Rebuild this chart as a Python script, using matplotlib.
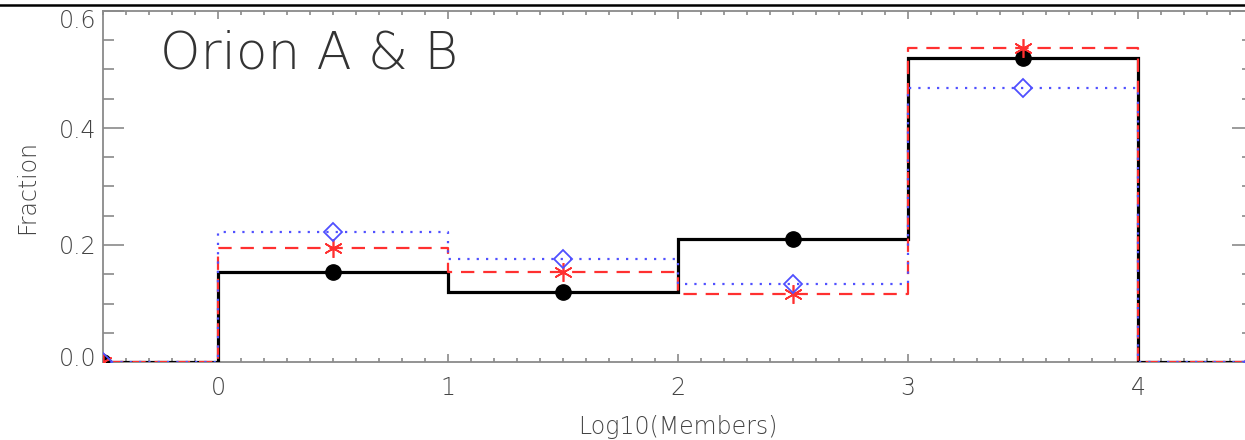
import matplotlib
matplotlib.use("Agg")
import matplotlib.pyplot as plt
from matplotlib.lines import Line2D
from matplotlib.ticker import MultipleLocator
from matplotlib.transforms import ScaledTranslation
import numpy as np

# bin edges and values (Log10(Members))
bin_edges = [-1, 0, 1, 2, 3, 4, 5]
bin_centers = [-0.5, 0.5, 1.5, 2.5, 3.5, 4.5]
frac_black = [0.0, 0.153, 0.119, 0.210, 0.519, 0.0]
frac_red = [0.0, 0.195, 0.154, 0.116, 0.537, 0.0]
frac_blue = [0.0, 0.222, 0.176, 0.133, 0.469, 0.0]
x_ticks = [0, 1, 2, 3, 4]
x_ticklabels = ['0', '1', '2', '3', '4']
y_ticks = [0, 0.2, 0.4, 0.6]
y_ticklabels = ['0.0', '0.2', '0.4', '0.6']
title_text = "Orion A & B"

plt.rcParams['font.family'] = ['DejaVu Sans']

fig = plt.figure(figsize=(12.45, 4.40), dpi=100)
ax = fig.add_axes([103 / 1245, 78 / 440, 1150 / 1245, 351 / 440])

def steps(vals):
    xs = np.repeat(bin_edges, 2)[1:-1]
    ys = np.repeat(vals, 2)
    return xs, ys

xb, yb = steps(frac_black)
ax.plot(xb, yb, color='black', lw=2.3, solid_joinstyle='miter', zorder=3)
xr, yr = steps(frac_red)
ax.plot(xr, yr, color='#ff3030', lw=1.6, dashes=(6, 4), zorder=4)
xbl, ybl = steps(frac_blue)
ax.plot(xbl, ybl, color='#5050ff', lw=1.6, dashes=(1, 3.2), zorder=5)

ax.plot(bin_centers, frac_black, 'o', color='black', ms=11, zorder=6)
ax.plot(bin_centers, frac_red, marker=(6, 2, 0), ls='none', color='#ff3030',
        ms=13.5, mew=1.2, zorder=6)
ax.plot(bin_centers, frac_blue, 'D', ls='none', mfc='none', mec='#5050ff',
        ms=9, mew=1.3, zorder=6)

ax.set_xlim(-0.5, 4.5)
ax.set_ylim(0, 0.6)
ax.xaxis.set_minor_locator(MultipleLocator(0.1))
ax.yaxis.set_minor_locator(MultipleLocator(0.05))
ax.set_xticks(x_ticks)
ax.set_xticklabels(x_ticklabels)
ax.set_yticks(y_ticks)
ax.set_yticklabels(y_ticklabels)

gray = '#8a8a8a'
for s in ax.spines.values():
    s.set_color(gray)
    s.set_linewidth(1.3)
ax.tick_params(axis='both', which='both', direction='in', color=gray,
               top=True, right=True, labelcolor='#444444', labelsize=17, width=1.2)
ax.tick_params(axis='x', which='major', length=6, pad=10)
ax.tick_params(axis='x', which='minor', length=3)
ax.tick_params(axis='y', which='major', length=15, pad=5)
ax.tick_params(axis='y', which='minor', length=8)
for lbl in ax.get_xticklabels() + ax.get_yticklabels():
    lbl.set_fontweight('light')

ylabels = ax.get_yticklabels()
ylabels[0].set_transform(ylabels[0].get_transform() +
                         ScaledTranslation(0, 6 / 100, fig.dpi_scale_trans))
ylabels[-1].set_transform(ylabels[-1].get_transform() +
                          ScaledTranslation(0, -8 / 100, fig.dpi_scale_trans))

ax.set_xlabel('Log10(Members)', fontsize=17, color='#444444', labelpad=11,
              fontweight='light')
ax.set_ylabel('Fraction', fontsize=17, color='#444444', labelpad=14,
              fontweight='light')

ax.text(160 / 1245, 1 - 54 / 440, title_text, transform=fig.transFigure,
        fontsize=37, color='#333333', fontweight='light', va='center', ha='left')

fig.add_artist(Line2D([0, 1], [1 - 5 / 440, 1 - 5 / 440], transform=fig.transFigure,
                      color='black', lw=1.8))

fig.savefig('out.png', dpi=100)
